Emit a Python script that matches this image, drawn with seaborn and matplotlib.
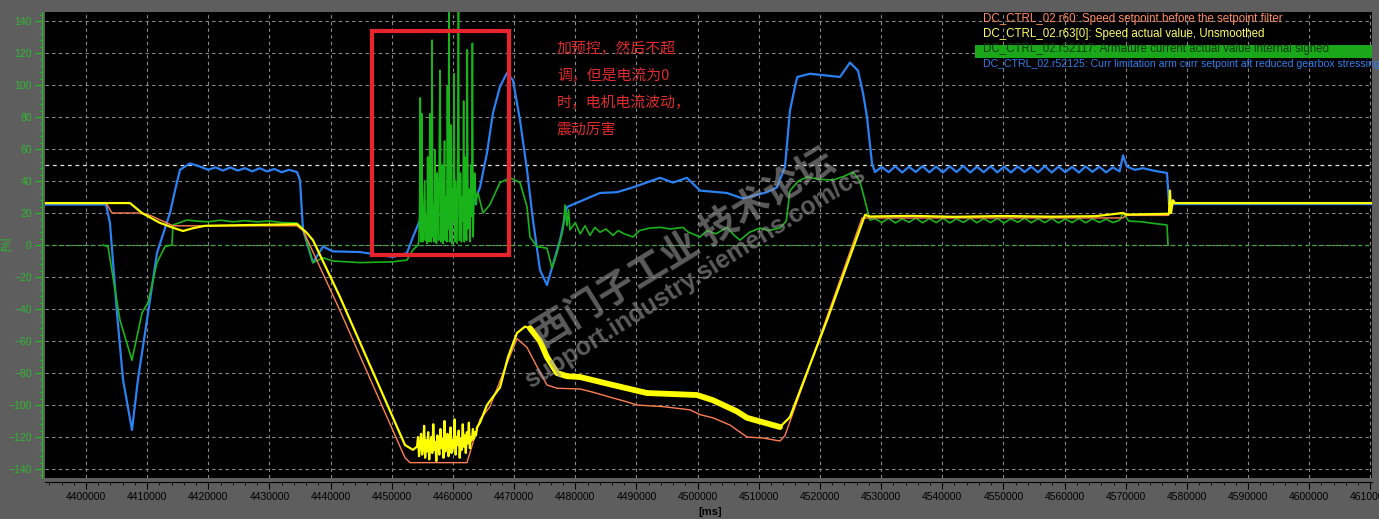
import numpy as np
import matplotlib.pyplot as plt
import seaborn as sns
from matplotlib.patches import Rectangle
from matplotlib.ticker import MultipleLocator, StrMethodFormatter

# ---------------- data: time [ms], value [%] ----------------
# r60 speed setpoint before filter (orange)
orange_t = [4393300, 4403270, 4404250, 4408500, 4410500, 4414220, 4434500, 4435500, 4441530,
            4452160, 4452970, 4462290, 4464420, 4466050, 4468830, 4470470, 4472100, 4473740,
            4475370, 4477010, 4480770, 4482900, 4486160, 4488450, 4490090, 4494340, 4498750,
            4500390, 4502510, 4505290, 4508070, 4510690, 4513470, 4514290, 4526880, 4528180,
            4569550, 4570000, 4577000, 4577150, 4610260]
orange_v = [26.2, 26.2, 20, 20, 18.5, 12, 12, 9, -41, -133, -136, -136, -109, -101, -74, -58.5,
            -64, -76, -87.5, -89.5, -90, -92, -95.6, -98, -100, -101, -103, -106, -108, -112.5,
            -120, -120.6, -122.5, -119, 16.9, 16.9, 16.9, 18.5, 18.5, 26.2, 26.2]

# r63[0] speed actual value (yellow)
yellow_t1 = [4393300, 4407190, 4409160, 4412000, 4414060, 4415860, 4417500, 4419460, 4434500,
             4436000, 4437110, 4441530, 4452160, 4453460]
yellow_v1 = [26.2, 26.2, 20, 14, 11, 8.75, 10.5, 12, 13, 8, 3, -32.5, -125, -128]
yellow_noise = [-126, -120, -132, -124, -118, -131, -127, -113, -133, -122, -129, -117, -134, -125,
                -120, -130, -112, -128, -123, -135, -119, -126, -131, -115, -127, -121, -133, -110,
                -129, -124, -118, -132, -126, -114, -130, -122, -127, -109, -131, -120, -125, -116,
                -133, -121, -128, -112, -126, -119, -130, -117, -124, -111, -127, -120, -122, -115,
                -121, -117, -119, -114]
yellow_t2 = [4464420, 4465560, 4467690, 4469000, 4470470, 4471780, 4472590, 4474230, 4475370,
             4477010, 4478640, 4480770, 4486160, 4491720, 4499900, 4502510, 4506440, 4508070,
             4513470, 4515100, 4521150, 4527370, 4528180, 4535000, 4542000, 4550000, 4558000,
             4565000, 4569550, 4570200, 4576910, 4577070, 4577230, 4577400, 4577720, 4578050,
             4610260]
yellow_v2 = [-111, -100, -89, -70, -55, -51, -52, -60, -70, -80, -82, -82.5, -87.5, -92.5, -93.75,
             -97, -104, -108, -113.75, -107.5, -47, 18.75, 17.8, 18.2, 17.6, 18.1, 17.7, 18.0,
             20, 19, 19.5, 19.5, 34, 20, 28, 26.2, 26.2]

# r52117 armature current actual value (green)
green_t1 = [4402780, 4403600, 4404410, 4405560, 4407520, 4409160, 4410140, 4411610, 4412920,
            4414060, 4414220, 4416510, 4418000, 4420000, 4422000, 4424000, 4426000, 4428000,
            4430000, 4432000, 4434500, 4435500, 4437110, 4438750, 4440380, 4444800, 4450190,
            4452480, 4453460]
green_v1 = [0, -1, -20, -47, -72, -42.5, -36, -11, -1, 0, 12.5, 15.6, 15, 14.5, 15.5, 14.5, 15.2,
            14.5, 15, 14, 13.75, 10, -11, -8, -10, -11, -10.5, -9.4, -3]
green_noise = [0, 3, 20, 92, 2, 82, 15, 2, 22, 40, 3, 18, 1, 55, 20, 2, 82, 10, 2, 128, 5, 25, 2,
               59, 15, 1, 45, 20, 3, 70, 109, 2, 18, 50, 1, 22, 65, 3, 30, 2, 99, 10, 150, 2, 20,
               75, 1, 35, 15, 107, 2, 40, 20, 1, 60, 150, 3, 25, 45, 2, 30, 15, 90, 2, 55, 20, 3,
               122, 10, 35, 20, 2, 50, 18, 126, 5, 30, 45, 36, 25, 30]
green_t2 = [4464090, 4464910, 4466000, 4467690, 4469320, 4470960, 4472100, 4472590, 4473740,
            4475370, 4476190, 4477000, 4478000, 4478320, 4478640, 4478900, 4479130, 4480000,
            4480800, 4481600, 4482400, 4483200, 4484040, 4485000, 4486160, 4487000, 4488000,
            4489430, 4490500, 4492210, 4494000, 4495500, 4497610, 4498500, 4500390, 4501500,
            4503000, 4504800, 4506000, 4506930, 4508500, 4510200, 4511500, 4513470, 4514500,
            4515100, 4516500, 4517880, 4520000, 4522130, 4524000, 4525400, 4526500, 4527040,
            4528180]
green_v2 = [32.5, 20, 25, 39, 42, 39, 24, 5, -1, -2, -14.4, -5, 10, 25, 12, 22, 9.4, 14, 7, 12, 6,
            11, 8, 10, 6, 9, 7, 5, 9, 10.6, 11, 10, 11, 8, 5, 9, 7, 11, 6, 3, 8, 10.6, 9, 10.6, 15,
            34, 40, 42.5, 41, 40.6, 43, 45.6, 40, 32.5, 15.6]
green_ripple = [16.5, 14, 16.8, 13.8, 16.4, 14.2, 16.9, 13.9, 16.5, 14, 16.7, 13.8, 16.4, 14.1,
                16.8, 13.9, 16.5, 14, 16.6, 13.8, 16.4, 14.2, 16.8, 13.9, 16.5, 14, 16.7, 13.8,
                16.3, 14, 16.6, 13.9, 16.4, 14.1, 16.2, 14, 15.5]
green_t3 = [4569550, 4570500, 4572820, 4574500, 4576740, 4576910]
green_v3 = [20, 15, 14.4, 13.5, 12.5, 0]

# r52125 current limitation setpoint (blue)
blue_t1 = [4393300, 4403270, 4403920, 4405070, 4406050, 4407520, 4408500, 4409970, 4411610,
           4413730, 4414550, 4415370, 4417000, 4418640, 4420000, 4421200, 4422400, 4423600,
           4424800, 4426000, 4427200, 4428400, 4429600, 4430800, 4432000, 4433200, 4434500,
           4434990, 4435480, 4437110, 4438750, 4440380, 4444800, 4450190, 4452480, 4453460,
           4454610, 4457880, 4462780, 4464420, 4465560, 4466540, 4467690, 4468830, 4469810,
           4470960, 4472100, 4473080, 4474230, 4475370, 4477500, 4478640, 4484040, 4486820,
           4489430, 4493850, 4495970, 4498260, 4500390, 4504800, 4507420, 4511340, 4512980,
           4514290, 4515100, 4515920, 4516300, 4518370, 4523280, 4524910, 4526220, 4527040,
           4527690, 4528510]
blue_v1 = [25.3, 25.3, 13.75, -42.5, -84, -115.6, -84, -47, -5, 20, 34, 47, 51, 49, 47, 48.5,
           46.5, 48.5, 46.5, 48, 46, 48, 46, 47.5, 45.5, 47, 45.6, 40.6, 9.4, -11, -1, -4, -4.4,
           -7.5, -5, 5, 15.6, 18.75, 20, 36, 57.5, 82.5, 99, 107.5, 103, 78, 47, 15.6, -15.6, -25,
           3, 23.75, 32.5, 33, 36, 42, 39, 42, 34, 32.5, 29, 33, 36, 49, 84, 99, 105, 107, 105,
           114, 109, 95, 80, 51]
blue_ripple = [45.6, 48.8, 45.5, 49.2, 45.3, 48.9, 45.6, 49.3, 45.4, 49.0, 45.3, 49.2, 45.6, 49.4,
               45.3, 48.9, 45.5, 49.2, 45.4, 49.0, 45.3, 49.1, 45.6, 48.9, 45.4, 49.3, 45.3, 49.0,
               45.5, 48.8, 45.3, 49.1, 45.7, 48.9, 45.4, 48.5, 46.0]
blue_t2 = [4569550, 4570200, 4571500, 4572820, 4574500, 4576740, 4577070, 4610260]
blue_v2 = [56, 49, 47, 48, 46.5, 45, 25.6, 25.6]

legend_labels = ["DC_CTRL_02.r60: Speed setpoint before the setpoint filter",
                 "DC_CTRL_02.r63[0]: Speed actual value, Unsmoothed",
                 "DC_CTRL_02.r52117: Armature current actual value internal signed",
                 "DC_CTRL_02.r52125: Curr limitation arm curr setpoint aft reduced gearbox stressing"]
note_lines = ["加预控，然后不超", "调，但是电流为0", "时，电机电流波动，", "震动厉害"]
box_t = (4446840, 4469160)
box_v = (-6.1, 133.9)
limit_level = 50

# ---------------- assemble series ----------------
yellow_t = np.concatenate([yellow_t1, np.linspace(4454120, 4463930, len(yellow_noise)), yellow_t2])
yellow_v = np.concatenate([yellow_v1, yellow_noise, yellow_v2])
green_t = np.concatenate([green_t1, np.linspace(4454300, 4463900, len(green_noise)), green_t2,
                          np.linspace(4529000, 4569000, len(green_ripple)), green_t3])
green_v = np.concatenate([green_v1, green_noise, green_v2, green_ripple, green_v3])
blue_t = np.concatenate([blue_t1, np.linspace(4529000, 4569000, len(blue_ripple)), blue_t2])
blue_v = np.concatenate([blue_v1, blue_ripple, blue_v2])

C_ORANGE, C_YELLOW, C_GREEN, C_BLUE = '#ff7f50', '#ffff00', '#19b419', '#2b80f2'
BG = '#5e5e5e'

sns.set_style('dark')
plt.rcParams['font.family'] = ['Liberation Sans', 'Noto Sans CJK SC', 'DejaVu Sans']

fig = plt.figure(figsize=(13.79, 5.19), dpi=100, facecolor=BG)
ax = fig.add_axes([45 / 1379, 41 / 519, 1327 / 1379, 466 / 519])
ax.set_facecolor('black')

# grid and reference lines
ax.set_xlim(4393300, 4610260)
ax.set_ylim(-145.6, 145.6)
ax.xaxis.set_major_locator(MultipleLocator(10000))
ax.xaxis.set_minor_locator(MultipleLocator(2000))
ax.yaxis.set_major_locator(MultipleLocator(20))
ax.yaxis.set_minor_locator(MultipleLocator(4))
ax.grid(True, which='major', color='#8a8a8a', linestyle=(0, (3, 3)), linewidth=0.8)
ax.axhline(limit_level, color='#e6e6e6', linestyle=(0, (3, 3)), linewidth=0.9)
ax.axhline(0, color='#3aa83a', linestyle=(0, (3, 3)), linewidth=0.9)

# series
sns.lineplot(x=blue_t, y=blue_v, ax=ax, color=C_BLUE, linewidth=1.6, estimator=None, sort=False)
sns.lineplot(x=green_t, y=green_v, ax=ax, color=C_GREEN, linewidth=1.2, estimator=None, sort=False)
sns.lineplot(x=orange_t, y=orange_v, ax=ax, color=C_ORANGE, linewidth=1.0, estimator=None, sort=False)
sns.lineplot(x=yellow_t, y=yellow_v, ax=ax, color=C_YELLOW, linewidth=1.6, estimator=None, sort=False)
band = (yellow_t > 4472000) & (yellow_t < 4514000)
sns.lineplot(x=yellow_t[band], y=yellow_v[band], ax=ax, color=C_YELLOW, linewidth=4.2,
             estimator=None, sort=False)

# red box + note
ax.add_patch(Rectangle((box_t[0], box_v[0]), box_t[1] - box_t[0], box_v[1] - box_v[0],
                       fill=False, edgecolor='#e8232b', linewidth=3, zorder=5))
for i, line in enumerate(note_lines):
    ax.text(4477000, 122.5 - i * 16.9, line, color='#e02a2a', fontsize=10.7, va='center',
            ha='left', family=['Noto Sans CJK SC', 'DejaVu Sans'], zorder=6)

# watermark
ax.text(0.481, 0.494, '西门子工业 技术论坛', transform=ax.transAxes, rotation=31.5,
        ha='center', va='center', fontsize=27, color='#9a9a9a', alpha=0.6, fontweight='bold',
        family=['Noto Sans CJK SC', 'DejaVu Sans'], zorder=7)
ax.text(0.49, 0.429, 'support.industry.siemens.com/cs', transform=ax.transAxes, rotation=32,
        ha='center', va='center', fontsize=18, color='#9a9a9a', alpha=0.6, fontweight='bold',
        zorder=7)

# legend block (top right)
ax.add_patch(Rectangle((0.701, 0.9013), 0.299, 0.028, transform=ax.transAxes,
                       facecolor='#1aa81a', edgecolor='none', zorder=8))
legend_colors = ['#ff8a5c', '#ffff66', '#0b3a0b', '#2f7fe8']
legend_sizes = [8.3, 8.3, 8.3, 7.6]
for i, (lab, col, fs) in enumerate(zip(legend_labels, legend_colors, legend_sizes)):
    ax.text(0.707, 0.986 - i * 0.0325, lab, transform=ax.transAxes, color=col, fontsize=fs,
            va='center', ha='left', zorder=9)

# axes styling
for s in ['top', 'right']:
    ax.spines[s].set_visible(False)
ax.spines['left'].set_color('#1fbf1f')
ax.spines['left'].set_position(('outward', 2.5))
ax.spines['bottom'].set_color('black')
ax.spines['bottom'].set_position(('outward', 3))
ax.tick_params(axis='y', which='major', colors='#1fbf1f', length=5, width=0.8, labelsize=7.5,
               pad=2, left=True, labelcolor='#2fb82f')
ax.tick_params(axis='y', which='minor', colors='#1fbf1f', length=2.5, width=0.6, left=True)
ax.tick_params(axis='x', which='major', colors='black', length=5, width=0.8, labelsize=7.5,
               pad=2, bottom=True)
ax.tick_params(axis='x', which='minor', colors='black', length=2.5, width=0.6, bottom=True)
ax.xaxis.set_major_formatter(StrMethodFormatter('{x:.0f}'))
ax.set_xlabel('')
ax.set_ylabel('')

fig.text(710 / 1379, 1 - 512 / 519, '[ms]', ha='center', va='center', fontsize=8,
         fontweight='bold', color='black')
fig.text(6 / 1379, 1 - 244 / 519, '[%]', ha='center', va='center', fontsize=7, rotation=90,
         color='#2fb82f')

fig.savefig('out.png', dpi=100, facecolor=BG)
